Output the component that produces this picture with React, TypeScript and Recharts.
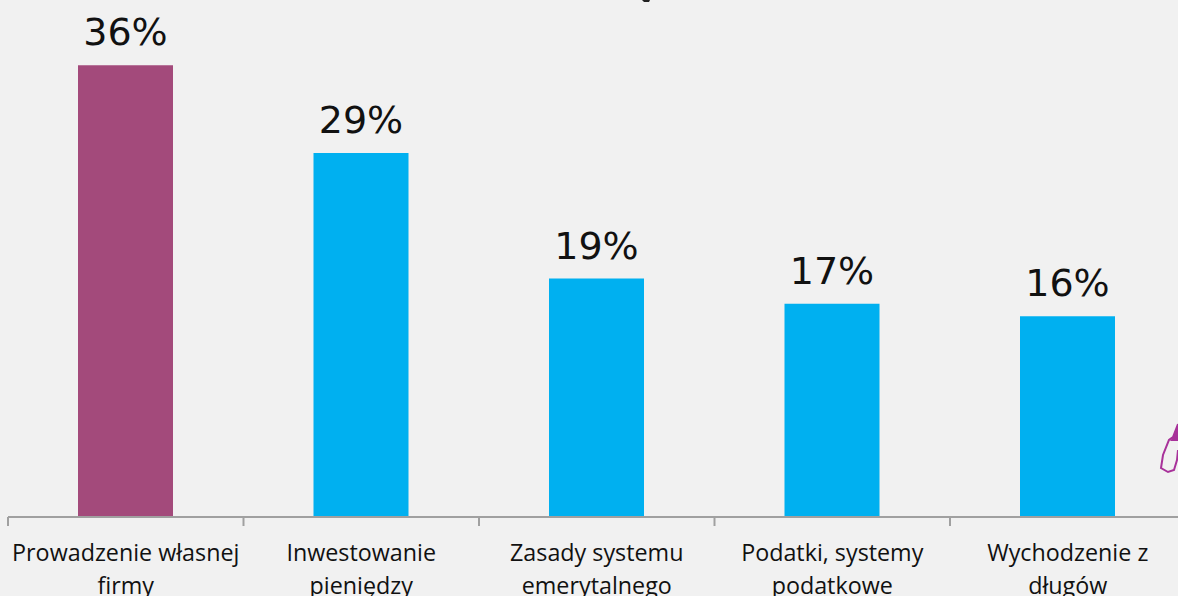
import React from 'react';
import { BarChart, Bar, XAxis, YAxis, Cell, LabelList } from 'recharts';

const categories = [
  'Prowadzenie własnej\nfirmy',
  'Inwestowanie\npieniędzy',
  'Zasady systemu\nemerytalnego',
  'Podatki, systemy\npodatkowe',
  'Wychodzenie z\ndługów',
];
const values = [36, 29, 19, 17, 16];
const barColors = ['#a34a7b', '#00b0f0', '#00b0f0', '#00b0f0', '#00b0f0'];

const data = categories.map((name, i) => ({ name, value: values[i] }));

const axisColor = '#a0a0a0';

// ticks sit on the band edges in the original, so the tick draws its own marks
const CategoryTick = ({ x, payload, width, index }: any) => {
  const band = width / categories.length;
  const top = 517;
  return (
    <g>
      <line x1={x - band / 2} x2={x - band / 2} y1={top} y2={top + 9} stroke={axisColor} strokeWidth={2} />
      {index === categories.length - 1 && (
        <line x1={x + band / 2} x2={x + band / 2} y1={top} y2={top + 9} stroke={axisColor} strokeWidth={2} />
      )}
      <text x={x} textAnchor="middle" fontFamily="'Open Sans', sans-serif" fontSize={23.3} fill="#111">
        {String(payload.value).split('\n').map((line, i) => (
          <tspan key={i} x={x} y={561 + i * 33}>{line}</tspan>
        ))}
      </text>
    </g>
  );
};

export default function App() {
  return (
    <div style={{ position: 'fixed', left: 0, top: 0, width: 1178, height: 596, overflow: 'hidden', background: '#f1f1f1' }}>
      <BarChart
        width={1200}
        height={596}
        data={data}
        barSize={95}
        margin={{ top: 15, right: 14.5, bottom: 0, left: 8 }}
      >
        <XAxis
          dataKey="name"
          interval={0}
          height={79}
          tick={<CategoryTick />}
          tickLine={false}
          stroke={axisColor}
          strokeWidth={2}
        />
        <YAxis hide domain={[0, 40]} />
        <Bar dataKey="value" isAnimationActive={false}>
          {data.map((d, i) => <Cell key={d.name} fill={barColors[i]} />)}
          <LabelList
            dataKey="value"
            position="top"
            offset={20}
            formatter={(v: any) => `${v}%`}
            fontFamily="'DejaVu Sans', sans-serif"
            fontSize={38}
            fill="#111"
          />
        </Bar>
      </BarChart>
      <svg width={1178} height={596} style={{ position: 'absolute', left: 0, top: 0, pointerEvents: 'none' }}>
        <path
          d="M1178 424 L1173 437 L1169 440 L1163 455 L1161 468 L1168 472 L1174 470 L1177 460 L1178 450"
          fill="none"
          stroke="#a8329a"
          strokeWidth={2}
        />
        <path d="M1178 424 L1173 437 L1170 441 L1178 441 Z" fill="#a8329a" />
        <path d="M642 0 L650 0 L649 2 L644 2 Z" fill="#222" />
      </svg>
    </div>
  );
}
